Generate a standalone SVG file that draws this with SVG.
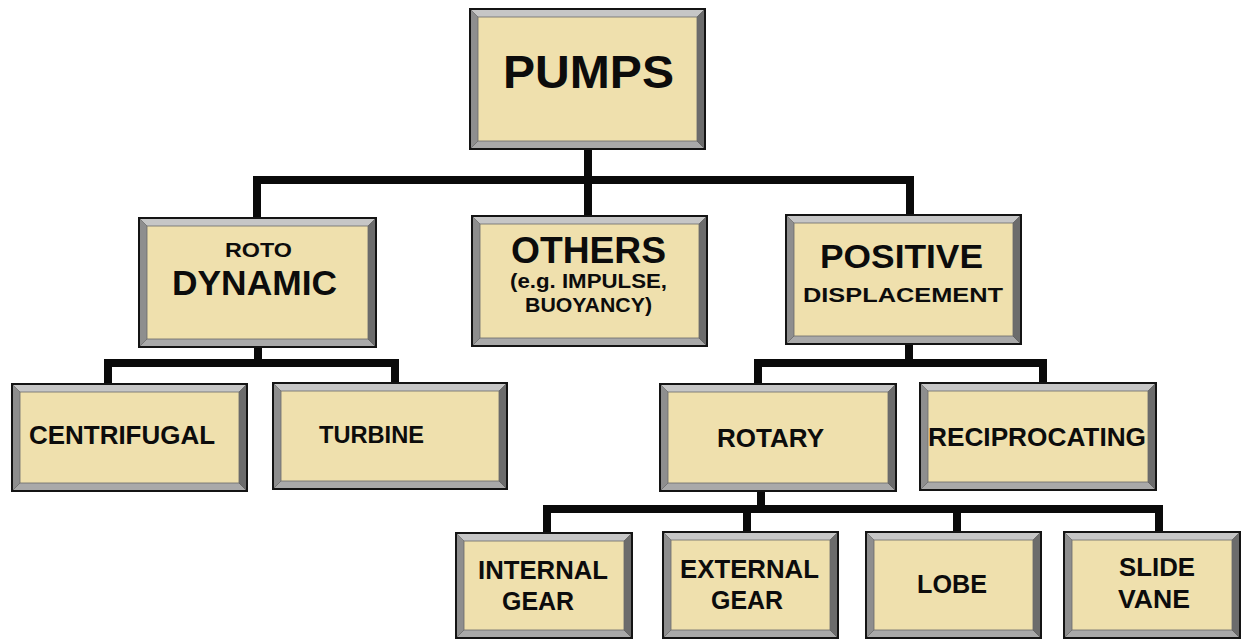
<svg xmlns="http://www.w3.org/2000/svg" width="1243" height="640" viewBox="0 0 1243 640">
<style>
.bo{fill:#141414}
.bt{fill:#c6c6c6}
.bb{fill:#a9a9a9}
.bl{fill:#8e8e8e}
.br{fill:#6c6c6c}
.fi{fill:#efe0ad;stroke:#6a6a6a;stroke-width:0.8}
.t{font-family:"Liberation Sans",Arial,sans-serif;font-weight:bold;fill:#0c0c0c}
.c{fill:none;stroke:#0a0a0a;stroke-width:8;stroke-linejoin:miter;stroke-linecap:butt}
</style>
<rect width="1243" height="640" fill="#ffffff"/>
<g id="connectors">
<path class="c" d="M588 150 V215"/>
<path class="c" d="M257 217 V180 H910 V214"/>
<path class="c" d="M258 348 V363"/>
<path class="c" d="M108 383 V363 H395 V382"/>
<path class="c" d="M909 345 V363"/>
<path class="c" d="M758 383 V363 H1043 V382"/>
<path class="c" d="M761 492 V509"/>
<path class="c" d="M547 532 V509 H1159 V531"/>
<path class="c" d="M747 509 V531"/>
<path class="c" d="M957 509 V531"/>
</g>
<g id="pumps">
<g transform="translate(469,8)">
<rect class="bo" width="237" height="142"/>
<polygon class="bt" points="2,2 235,2 228,9 9,9"/>
<polygon class="bb" points="2,140 235,140 228,133 9,133"/>
<polygon class="bl" points="2,2 9,9 9,133 2,140"/>
<polygon class="br" points="235,2 228,9 228,133 235,140"/>
<rect class="fi" x="9" y="9" width="219" height="124"/>
</g>
<text class="t" x="503" y="88" font-size="46" textLength="171" lengthAdjust="spacingAndGlyphs">PUMPS</text>
</g>
<g id="rotodynamic">
<g transform="translate(138,217)">
<rect class="bo" width="239" height="131"/>
<polygon class="bt" points="2,2 237,2 230,9 9,9"/>
<polygon class="bb" points="2,129 237,129 230,122 9,122"/>
<polygon class="bl" points="2,2 9,9 9,122 2,129"/>
<polygon class="br" points="237,2 230,9 230,122 237,129"/>
<rect class="fi" x="9" y="9" width="221" height="113"/>
</g>
<text class="t" x="225" y="257" font-size="21" textLength="67" lengthAdjust="spacingAndGlyphs">ROTO</text>
<text class="t" x="172" y="295" font-size="35" textLength="165" lengthAdjust="spacingAndGlyphs">DYNAMIC</text>
</g>
<g id="others">
<g transform="translate(471,215)">
<rect class="bo" width="237" height="132"/>
<polygon class="bt" points="2,2 235,2 228,9 9,9"/>
<polygon class="bb" points="2,130 235,130 228,123 9,123"/>
<polygon class="bl" points="2,2 9,9 9,123 2,130"/>
<polygon class="br" points="235,2 228,9 228,123 235,130"/>
<rect class="fi" x="9" y="9" width="219" height="114"/>
</g>
<text class="t" x="511" y="263" font-size="36" textLength="155" lengthAdjust="spacingAndGlyphs">OTHERS</text>
<text class="t" x="510" y="288" font-size="21" textLength="157" lengthAdjust="spacingAndGlyphs">(e.g. IMPULSE,</text>
<text class="t" x="525" y="312" font-size="21" textLength="127" lengthAdjust="spacingAndGlyphs">BUOYANCY)</text>
</g>
<g id="positive">
<g transform="translate(785,214)">
<rect class="bo" width="237" height="131"/>
<polygon class="bt" points="2,2 235,2 228,9 9,9"/>
<polygon class="bb" points="2,129 235,129 228,122 9,122"/>
<polygon class="bl" points="2,2 9,9 9,122 2,129"/>
<polygon class="br" points="235,2 228,9 228,122 235,129"/>
<rect class="fi" x="9" y="9" width="219" height="113"/>
</g>
<text class="t" x="820" y="268" font-size="34" textLength="163" lengthAdjust="spacingAndGlyphs">POSITIVE</text>
<text class="t" x="803" y="302" font-size="21" textLength="200" lengthAdjust="spacingAndGlyphs">DISPLACEMENT</text>
</g>
<g id="centrifugal">
<g transform="translate(11,383)">
<rect class="bo" width="237" height="109"/>
<polygon class="bt" points="2,2 235,2 228,9 9,9"/>
<polygon class="bb" points="2,107 235,107 228,100 9,100"/>
<polygon class="bl" points="2,2 9,9 9,100 2,107"/>
<polygon class="br" points="235,2 228,9 228,100 235,107"/>
<rect class="fi" x="9" y="9" width="219" height="91"/>
</g>
<text class="t" x="29" y="444" font-size="26" textLength="186" lengthAdjust="spacingAndGlyphs">CENTRIFUGAL</text>
</g>
<g id="turbine">
<g transform="translate(272,382)">
<rect class="bo" width="236" height="108"/>
<polygon class="bt" points="2,2 234,2 227,9 9,9"/>
<polygon class="bb" points="2,106 234,106 227,99 9,99"/>
<polygon class="bl" points="2,2 9,9 9,99 2,106"/>
<polygon class="br" points="234,2 227,9 227,99 234,106"/>
<rect class="fi" x="9" y="9" width="218" height="90"/>
</g>
<text class="t" x="319" y="443" font-size="24" textLength="105" lengthAdjust="spacingAndGlyphs">TURBINE</text>
</g>
<g id="rotary">
<g transform="translate(659,383)">
<rect class="bo" width="238" height="109"/>
<polygon class="bt" points="2,2 236,2 229,9 9,9"/>
<polygon class="bb" points="2,107 236,107 229,100 9,100"/>
<polygon class="bl" points="2,2 9,9 9,100 2,107"/>
<polygon class="br" points="236,2 229,9 229,100 236,107"/>
<rect class="fi" x="9" y="9" width="220" height="91"/>
</g>
<text class="t" x="717" y="447" font-size="26" textLength="107" lengthAdjust="spacingAndGlyphs">ROTARY</text>
</g>
<g id="reciprocating">
<g transform="translate(919,382)">
<rect class="bo" width="238" height="109"/>
<polygon class="bt" points="2,2 236,2 229,9 9,9"/>
<polygon class="bb" points="2,107 236,107 229,100 9,100"/>
<polygon class="bl" points="2,2 9,9 9,100 2,107"/>
<polygon class="br" points="236,2 229,9 229,100 236,107"/>
<rect class="fi" x="9" y="9" width="220" height="91"/>
</g>
<text class="t" x="928" y="446" font-size="26" textLength="218" lengthAdjust="spacingAndGlyphs">RECIPROCATING</text>
</g>
<g id="internal-gear">
<g transform="translate(455,532)">
<rect class="bo" width="178" height="107"/>
<polygon class="bt" points="2,2 176,2 169,9 9,9"/>
<polygon class="bb" points="2,105 176,105 169,98 9,98"/>
<polygon class="bl" points="2,2 9,9 9,98 2,105"/>
<polygon class="br" points="176,2 169,9 169,98 176,105"/>
<rect class="fi" x="9" y="9" width="160" height="89"/>
</g>
<text class="t" x="478" y="579" font-size="25" textLength="130" lengthAdjust="spacingAndGlyphs">INTERNAL</text>
<text class="t" x="502" y="610" font-size="25" textLength="72" lengthAdjust="spacingAndGlyphs">GEAR</text>
</g>
<g id="external-gear">
<g transform="translate(662,531)">
<rect class="bo" width="177" height="108"/>
<polygon class="bt" points="2,2 175,2 168,9 9,9"/>
<polygon class="bb" points="2,106 175,106 168,99 9,99"/>
<polygon class="bl" points="2,2 9,9 9,99 2,106"/>
<polygon class="br" points="175,2 168,9 168,99 175,106"/>
<rect class="fi" x="9" y="9" width="159" height="90"/>
</g>
<text class="t" x="680" y="578" font-size="25" textLength="139" lengthAdjust="spacingAndGlyphs">EXTERNAL</text>
<text class="t" x="711" y="609" font-size="25" textLength="72" lengthAdjust="spacingAndGlyphs">GEAR</text>
</g>
<g id="lobe">
<g transform="translate(865,531)">
<rect class="bo" width="177" height="108"/>
<polygon class="bt" points="2,2 175,2 168,9 9,9"/>
<polygon class="bb" points="2,106 175,106 168,99 9,99"/>
<polygon class="bl" points="2,2 9,9 9,99 2,106"/>
<polygon class="br" points="175,2 168,9 168,99 175,106"/>
<rect class="fi" x="9" y="9" width="159" height="90"/>
</g>
<text class="t" x="917" y="593" font-size="25" textLength="70" lengthAdjust="spacingAndGlyphs">LOBE</text>
</g>
<g id="slide-vane">
<g transform="translate(1063,531)">
<rect class="bo" width="178" height="108"/>
<polygon class="bt" points="2,2 176,2 169,9 9,9"/>
<polygon class="bb" points="2,106 176,106 169,99 9,99"/>
<polygon class="bl" points="2,2 9,9 9,99 2,106"/>
<polygon class="br" points="176,2 169,9 169,99 176,106"/>
<rect class="fi" x="9" y="9" width="160" height="90"/>
</g>
<text class="t" x="1119" y="576" font-size="25" textLength="76" lengthAdjust="spacingAndGlyphs">SLIDE</text>
<text class="t" x="1118" y="608" font-size="25" textLength="72" lengthAdjust="spacingAndGlyphs">VANE</text>
</g>
</svg>
